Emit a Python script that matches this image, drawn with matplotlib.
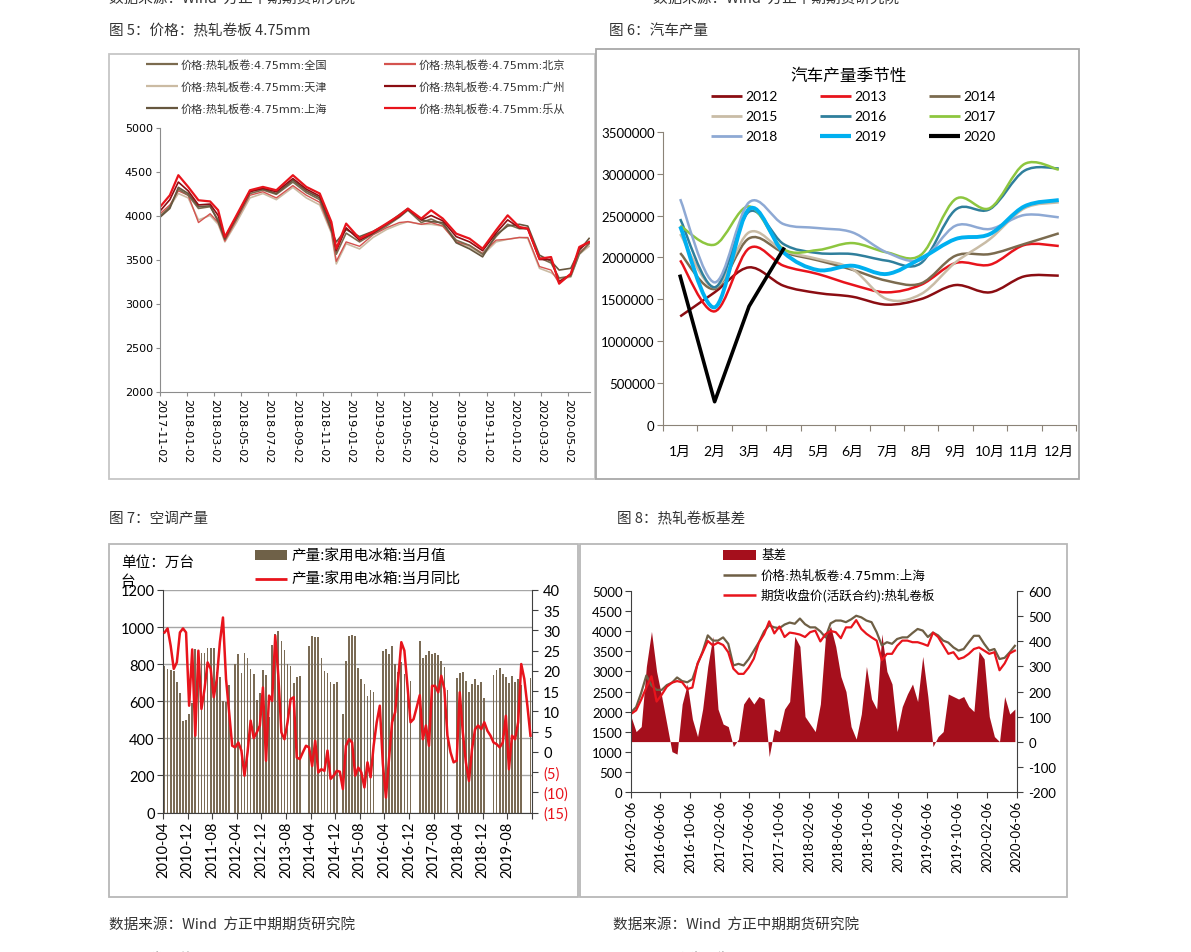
import numpy as np
import pandas as pd
import matplotlib
matplotlib.use("Agg")
import matplotlib.pyplot as plt
from matplotlib.path import Path
from matplotlib.patches import PathPatch, Rectangle
from matplotlib.lines import Line2D

plt.rcParams['font.family'] = ['Lato', 'Noto Sans CJK SC', 'DejaVu Sans']
plt.rcParams['axes.unicode_minus'] = False

W, H = 1191, 953
CJK = ['Noto Sans CJK SC', 'DejaVu Sans']
VER = ['DejaVu Sans', 'Noto Sans CJK SC']

# ---------------- 图5 价格：热轧卷板 4.75mm ----------------
p5_dates = ["2017-11-02", "2017-11-24", "2017-12-13", "2018-01-04", "2018-01-27",
            "2018-02-22", "2018-03-12", "2018-03-27", "2018-04-22", "2018-05-22",
            "2018-06-20", "2018-07-20", "2018-08-26", "2018-09-25", "2018-10-25",
            "2018-11-20", "2018-12-01", "2018-12-23", "2019-01-22", "2019-02-21",
            "2019-03-23", "2019-04-21", "2019-05-10", "2019-06-09", "2019-07-01",
            "2019-07-27", "2019-08-26", "2019-09-25", "2019-10-24", "2019-11-23",
            "2019-12-19", "2020-01-14", "2020-02-02", "2020-02-28", "2020-03-25",
            "2020-04-12", "2020-05-08", "2020-05-27", "2020-06-18"]
p5_quanguo = [3990, 4100, 4300, 4230, 4080, 4100, 3950, 3740, 3960, 4250, 4290, 4240, 4380,
              4260, 4180, 3860, 3560, 3800, 3700, 3790, 3880, 3980, 4060, 3920, 3960, 3900,
              3720, 3660, 3560, 3760, 3900, 3850, 3850, 3520, 3460, 3290, 3310, 3560, 3680]
p5_tianjin = [4000, 4100, 4250, 4200, 3950, 4000, 3900, 3700, 3920, 4200, 4250, 4180, 4320,
              4200, 4120, 3800, 3450, 3680, 3620, 3750, 3840, 3900, 3930, 3900, 3900, 3880,
              3700, 3640, 3550, 3700, 3730, 3750, 3740, 3400, 3350, 3280, 3300, 3560, 3650]
p5_shanghai = [3980, 4080, 4320, 4250, 4100, 4110, 3930, 3730, 3990, 4280, 4300, 4250, 4400,
               4280, 4200, 3830, 3700, 3840, 3760, 3820, 3900, 4010, 4080, 3950, 3930, 3920,
               3690, 3620, 3530, 3780, 3880, 3900, 3880, 3550, 3480, 3380, 3400, 3600, 3740]
p5_beijing = [4020, 4120, 4280, 4230, 3920, 4020, 3920, 3710, 3950, 4230, 4270, 4200, 4340,
              4230, 4150, 3820, 3480, 3700, 3650, 3780, 3860, 3920, 3930, 3900, 3920, 3880,
              3700, 3660, 3570, 3720, 3730, 3750, 3750, 3420, 3380, 3230, 3330, 3580, 3680]
p5_guangzhou = [4050, 4180, 4380, 4280, 4120, 4130, 4000, 3750, 3990, 4270, 4310, 4270, 4420,
                4300, 4220, 3900, 3600, 3860, 3720, 3800, 3900, 3990, 4070, 3950, 4000, 3940,
                3760, 3700, 3600, 3800, 3950, 3860, 3850, 3500, 3500, 3250, 3330, 3620, 3700]
p5_lecong = [4097, 4230, 4458, 4325, 4173, 4160, 4060, 3756, 4002, 4287, 4325, 4287, 4458,
             4325, 4250, 3927, 3623, 3908, 3737, 3813, 3908, 4002, 4078, 3965, 4059, 3965,
             3794, 3737, 3623, 3832, 4002, 3870, 3851, 3509, 3528, 3225, 3338, 3642, 3699]
p5_labels = ["价格:热轧板卷:4.75mm:全国", "价格:热轧板卷:4.75mm:天津", "价格:热轧板卷:4.75mm:上海",
             "价格:热轧板卷:4.75mm:北京", "价格:热轧板卷:4.75mm:广州", "价格:热轧板卷:4.75mm:乐从"]

# ---------------- 图6 汽车产量季节性 ----------------
car_months = ["1月", "2月", "3月", "4月", "5月", "6月", "7月", "8月", "9月", "10月", "11月", "12月"]
car_2012 = [1296000, 1583000, 1881000, 1662000, 1575000, 1531000, 1436000, 1503000, 1670000, 1583000, 1774000, 1782000]
car_2013 = [1965000, 1356000, 2108000, 1901000, 1802000, 1674000, 1583000, 1674000, 1933000, 1913000, 2148000, 2136000]
car_2014 = [2052000, 1623000, 2227000, 2060000, 1965000, 1853000, 1722000, 1690000, 2020000, 2040000, 2160000, 2287000]
car_2015 = [2279000, 1643000, 2299000, 2080000, 1981000, 1861000, 1503000, 1563000, 1941000, 2219000, 2585000, 2657000]
car_2016 = [2458000, 1643000, 2545000, 2160000, 2052000, 2040000, 1961000, 1933000, 2569000, 2577000, 3034000, 3062000]
car_2017 = [2378000, 2152000, 2609000, 2100000, 2088000, 2171000, 2060000, 2032000, 2696000, 2589000, 3114000, 3046000]
car_2018 = [2696000, 1702000, 2657000, 2398000, 2350000, 2299000, 2060000, 1973000, 2378000, 2339000, 2506000, 2478000]
car_2019 = [2370000, 1404000, 2577000, 2060000, 1849000, 1901000, 1802000, 1988000, 2219000, 2279000, 2609000, 2684000]
car_2020 = [1774000, 278000, 1416000, 2100000]

# ---------------- 图7 家用电冰箱产量 ----------------
fridge_start = "2010-04"
fridge_val = ([788, 773, 770, 765, 702, 644, 491, 498, 531] +
              [590, 880, 855, 860, 860, 885, 885, 885, 760, 730, 600, 595] +
              [690, np.nan, 800, 855, 750, 860, 835, 775, 745, 605, 645, 770] +
              [740, 515, 905, 965, 980, 925, 875, 800, 790, 700, 730, 735] +
              [np.nan, np.nan, 900, 950, 945, 945, 835, 765, 750, 705, 695, 705] +
              [np.nan, 530, 815, 950, 955, 950, 780, 720, 695, 630, 660, 650] +
              [np.nan, np.nan, 870, 880, 855, 900, 800, 760, 810, 745, 720, 710] +
              [np.nan, np.nan, 925, 835, 850, 870, 855, 860, 850, 815, 785, 660] +
              [np.nan, np.nan, 725, 755, 760, 710, 650, 695, 720, 685, 705, 620] +
              [np.nan, np.nan, 740, 770, 780, 745, 730, 700, 735, 705, 720, 690] +
              [np.nan, np.nan, 725])
fridge_yoy = [29.5, 30.5, 26.2, 20.5, 22.1, 29.5, 30.5, 29.5, 11.4, 25.3,
              4.0, 25.0, 10.6, 15.5, 22.1, 20.5, 13.5, 18.0, 27.1, 33.2,
              18.0, 9.8, 1.5, 1.1, 2.3, 0.3, -5.9, -0.1, 7.7, 3.4,
              4.8, 6.5, 15.9, -2.2, 13.9, 12.6, 28.7, 18.8, 4.8, 3.1,
              7.3, 13.0, 13.5, -1.4, -1.8, -0.1, 1.5, 1.1, -3.5, 2.7,
              -5.1, -4.3, -4.7, 0.3, -6.7, -5.9, -4.7, -4.9, -9.2, 1.5,
              3.1, 2.3, -5.9, -3.9, -5.1, -8.8, -2.6, -6.3, 1.5, 7.3,
              11.4, -3.0, -11.3, -1.8, 7.3, 9.8, 18.0, 27.1, 25.0, 16.3,
              7.3, 8.1, 11.0, 14.0, 3.1, 6.5, 1.5, 16.3, 16.3, 14.7,
              18.8, 15.5, 4.0, -0.1, -2.6, -2.2, 14.7, 4.8, -2.6, -7.2,
              0.7, 5.6, 6.5, 5.6, 7.3, 5.2, 4.0, 2.3, 1.9, 1.1,
              2.3, 8.9, -4.3, 4.0, 3.1, 7.3, 21.7, 18.0, 11.4, 4.0]

# ---------------- 图8 热轧卷板基差 ----------------
basis_start = "2016-02-06"
spot_sh = [1980, 2110, 2470, 2900, 2650, 2540, 2540, 2660, 2720, 2850, 2760, 2730, 2810,
           3180, 3500, 3900, 3770, 3770, 3850, 3690, 3150, 3190, 3150, 3310, 3520, 3730,
           4000, 4150, 4100, 4080, 4170, 4220, 4190, 4320, 4180, 4100, 4100, 4000, 3850,
           4200, 4270, 4270, 4230, 4300, 4390, 4350, 4270, 4230, 3980, 3650, 3730, 3690,
           3810, 3850, 3850, 3960, 4060, 4020, 3860, 3970, 3900, 3770, 3720, 3600, 3520,
           3560, 3730, 3890, 3890, 3690, 3520, 3560, 3310, 3340, 3480, 3640]
futures = [1940, 2030, 2300, 2600, 2880, 2250, 2420, 2620, 2720, 2760, 2730, 2560, 2600,
           3200, 3470, 3760, 3650, 3720, 3660, 3480, 3070, 2940, 2940, 3100, 3320, 3720,
           3930, 4250, 3950, 4120, 3860, 3970, 3950, 3920, 3860, 3980, 4020, 3750, 3930,
           4010, 3980, 3830, 4100, 4100, 4280, 4060, 3940, 3850, 3770, 3280, 3440, 3440,
           3640, 3770, 3770, 3730, 3730, 3690, 3640, 3970, 3860, 3650, 3440, 3480, 3310,
           3350, 3440, 3560, 3600, 3520, 3440, 3480, 3030, 3200, 3450, 3520]
basis = [100, 40, 60, 300, 440, 280, 180, 70, -40, -50, 150, 230, 90,
         20, 130, 300, 420, 130, 70, 60, -20, 10, 150, 180, 150, 180,
         170, -60, 50, 40, 130, 160, 420, 380, 100, 70, 40, 150, 420,
         460, 380, 260, 200, 60, 10, 110, 300, 170, 130, 430, 280, 230,
         40, 140, 190, 230, 160, 340, 180, -20, 20, 40, 190, 180, 170,
         180, 140, 120, 360, 330, 100, 20, 0, 180, 110, 130]


def fx(x):
    return x / W


def fy(y):
    return 1 - y / H


def axes_px(fig, left, top, right, bottom):
    return fig.add_axes([fx(left), fy(bottom), (right - left) / W, (bottom - top) / H])


def frame(fig, x0, y0, x1, y1, color):
    fig.add_artist(Rectangle((fx(x0), fy(y1)), (x1 - x0) / W, (y1 - y0) / H,
                             transform=fig.transFigure, fill=False, edgecolor=color, lw=1.3))


def leg_line(fig, x0, x1, y, color, lw):
    fig.add_artist(Line2D([fx(x0), fx(x1)], [fy(y), fy(y)], transform=fig.transFigure,
                          color=color, lw=lw, solid_capstyle='butt'))


def leg_box(fig, x0, x1, y0, y1, color):
    fig.add_artist(Rectangle((fx(x0), fy(y1)), (x1 - x0) / W, (y1 - y0) / H,
                             transform=fig.transFigure, color=color, lw=0))


def txt(fig, x, y, s, size, family=CJK, **kw):
    kw.setdefault('ha', 'left')
    fig.text(fx(x), fy(y), s, fontsize=size, va='center', family=family, **kw)


def smooth_path(xs, ys):
    pts = np.column_stack([xs, ys]).astype(float)
    n = len(pts)
    verts = [pts[0]]
    codes = [Path.MOVETO]
    for i in range(n - 1):
        p0 = pts[i - 1] if i > 0 else pts[i]
        p1 = pts[i]
        p2 = pts[i + 1]
        p3 = pts[i + 2] if i + 2 < n else pts[i + 1]
        verts += [p1 + (p2 - p0) / 6, p2 - (p3 - p1) / 6, p2]
        codes += [Path.CURVE4] * 3
    return Path(verts, codes)


fig = plt.figure(figsize=(W / 100, H / 100), dpi=100)

# captions
txt(fig, 109, -1, "数据来源：Wind  方正中期期货研究院", 10.5, color='#333333')
txt(fig, 653, -1, "数据来源：Wind  方正中期期货研究院", 10.5, color='#333333')
txt(fig, 109, 31, "图 5：价格：热轧卷板 4.75mm", 10.5, color='#333333')
txt(fig, 609, 31, "图 6：汽车产量", 10.5, color='#333333')
txt(fig, 109, 519, "图 7：空调产量", 10.5, color='#333333')
txt(fig, 617, 519, "图 8：热轧卷板基差", 10.5, color='#333333')
txt(fig, 109, 925, "数据来源：Wind  方正中期期货研究院", 10.5, color='#333333')
txt(fig, 613, 925, "数据来源：Wind  方正中期期货研究院", 10.5, color='#333333')
txt(fig, 109, 960, "图 9：卷螺价差", 10.5, color='#333333')
txt(fig, 625, 960, "图 10：热卷利润", 10.5, color='#333333')

frame(fig, 109, 55, 595, 480, '#c6c6c6')
frame(fig, 596, 50, 1079, 480, '#a8a8a8')
frame(fig, 109, 545, 578, 898, '#b8b8b8')
frame(fig, 580, 545, 1067, 898, '#b8b8b8')

# ---------- chart 5 ----------
ax5 = axes_px(fig, 160, 128.5, 590, 392.5)
d5 = pd.to_datetime(p5_dates)
series5 = [(p5_quanguo, '#7b6b4f', 1.2), (p5_tianjin, '#cbbba3', 1.2), (p5_shanghai, '#66573f', 1.2),
           (p5_beijing, '#d4534f', 1.0), (p5_guangzhou, '#8b0d12', 1.2), (p5_lecong, '#e8141c', 1.6)]
for vals, col, lw in [series5[1], series5[3], series5[0], series5[2], series5[4], series5[5]]:
    ax5.plot(d5, vals, color=col, lw=lw)
ax5.set_ylim(2000, 5000)
ax5.set_xlim(pd.Timestamp("2017-11-02"), pd.Timestamp("2020-06-20"))
t5 = pd.date_range("2017-11-02", "2020-05-02", freq=pd.DateOffset(months=2))
ax5.set_xticks(t5, [t.strftime("%Y-%m-%d") for t in t5], rotation=270, fontsize=8, family=VER)
ax5.set_yticks(range(2000, 5001, 500), [str(v) for v in range(2000, 5001, 500)], fontsize=8, family=VER)
for s in ['top', 'right']:
    ax5.spines[s].set_visible(False)
for s in ['left', 'bottom']:
    ax5.spines[s].set_color('#8c8c8c')
ax5.tick_params(length=3, color='#8c8c8c', pad=2)
for i, (vals, col, lw) in enumerate(series5):
    x0 = 146 if i < 3 else 384
    y = 65 + 22 * (i % 3)
    leg_line(fig, x0, x0 + 32, y, col, 1.6)
    txt(fig, x0 + 35, y, p5_labels[i], 8, family=VER, color='#333333')

# ---------- chart 6 ----------
ax6 = axes_px(fig, 663, 132.7, 1076, 426)
xm = np.arange(1, 13)
car_series = [(car_2012, '#8b0d12', 1.8), (car_2013, '#e8141c', 1.8), (car_2014, '#7b6b4f', 1.8),
              (car_2015, '#c9bca6', 1.8), (car_2016, '#2f7f9c', 1.8), (car_2017, '#8dc63f', 1.8),
              (car_2018, '#8ea9d4', 1.8), (car_2019, '#00b0f0', 2.8)]
for vals, col, lw in car_series:
    ax6.add_patch(PathPatch(smooth_path(xm, vals), fill=False, edgecolor=col, lw=lw))
ax6.plot(xm[:len(car_2020)], car_2020, color='black', lw=2.6)
ax6.set_xlim(0.5, 12.5)
ax6.set_ylim(0, 3500000)
ax6.set_xticks(np.arange(0.5, 12.6, 1), [''] * 13)
ax6.set_xticks(xm, car_months, minor=True, fontsize=10)
ax6.tick_params(axis='x', which='minor', length=0, pad=14)
ax6.tick_params(axis='x', which='major', length=4, color='#8b8378')
yt6 = list(range(0, 3500001, 500000))
ax6.set_yticks(yt6, [str(v) for v in yt6], fontsize=9.5)
ax6.tick_params(axis='y', length=4, color='#8b8378', pad=2)
for s in ['top', 'right']:
    ax6.spines[s].set_visible(False)
for s in ['left', 'bottom']:
    ax6.spines[s].set_color('#8b8378')
fig.text(fx(849), fy(76), "汽车产量季节性", fontsize=12, ha='center', va='center', family=CJK)
leg6 = [("2012", '#8b0d12', 2), ("2013", '#e8141c', 2), ("2014", '#7b6b4f', 2),
        ("2015", '#c9bca6', 2), ("2016", '#2f7f9c', 2), ("2017", '#8dc63f', 2),
        ("2018", '#8ea9d4', 2), ("2019", '#00b0f0', 3), ("2020", 'black', 3)]
for i, (lab, col, lw) in enumerate(leg6):
    x0 = [711, 820, 929][i % 3]
    y = 97 + 20 * (i // 3)
    leg_line(fig, x0, x0 + 31, y, col, lw)
    txt(fig, x0 + 34, y, lab, 10, family=['Lato'])

# ---------- chart 7 ----------
ax7 = axes_px(fig, 163, 591, 532, 813.5)
n7 = len(fridge_val)
months7 = pd.period_range(fridge_start, periods=n7, freq='M')
pos7 = np.arange(n7) + 0.5
ax7.bar(pos7, fridge_val, width=0.55, color='#7a6b55', zorder=2)
ax7.set_xlim(0, n7)
ax7.set_ylim(0, 1200)
xt7 = np.arange(0, n7 + 1, 8)
ax7.set_xticks(xt7, [str(months7[i]) if i < n7 else '' for i in xt7], rotation=90, fontsize=10.5)
ax7.set_yticks(range(0, 1201, 200), [str(v) for v in range(0, 1201, 200)], fontsize=10.5)
ax7.grid(axis='y', color='#a6a6a6', lw=1, zorder=0)
ax7.tick_params(length=4, color='#404040', pad=2)
ax7.spines['top'].set_visible(False)
ax7.spines['right'].set_visible(False)
for s in ['left', 'bottom']:
    ax7.spines[s].set_color('#404040')
ax7r = ax7.twinx()
ax7r.plot(pos7, fridge_yoy, color='#e8141c', lw=1.8)
ax7r.set_ylim(-15, 40)
yt7r = list(range(-15, 41, 5))
ax7r.set_yticks(yt7r, ["(%d)" % (-v) if v < 0 else str(v) for v in yt7r], fontsize=10.5)
for lbl, v in zip(ax7r.get_yticklabels(), yt7r):
    if v < 0:
        lbl.set_color('#e8141c')
ax7r.tick_params(length=4, color='#404040', pad=4)
for s in ['top', 'left', 'bottom']:
    ax7r.spines[s].set_visible(False)
ax7r.spines['right'].set_color('#404040')
leg_box(fig, 255, 287, 551, 561, '#6f6148')
txt(fig, 291, 556, "产量:家用电冰箱:当月值", 10.5)
leg_line(fig, 255, 287, 580, '#e8141c', 2)
txt(fig, 291, 580, "产量:家用电冰箱:当月同比", 10.5)
txt(fig, 121, 563, "单位：万台", 10.5)
txt(fig, 121, 582, "台", 10.5)

# ---------- chart 8 ----------
ax8 = axes_px(fig, 631, 592.3, 1017.3, 792.7)
ax8r = ax8.twinx()
d8 = pd.date_range(basis_start, periods=len(basis), freq='21D')
ax8r.fill_between(d8, 0, basis, color='#a50f1c', lw=0)
ax8.plot(d8, spot_sh, color='#6e5f45', lw=1.6)
ax8.plot(d8, futures, color='#e8141c', lw=1.6)
ax8.set_zorder(ax8r.get_zorder() + 1)
ax8.patch.set_visible(False)
ax8.set_xlim(pd.Timestamp("2016-02-06"), pd.Timestamp("2020-06-09"))
ax8.set_ylim(0, 5000)
ax8r.set_ylim(-200, 600)
t8 = pd.date_range("2016-02-06", "2020-06-06", freq=pd.DateOffset(months=4))
ax8.set_xticks(t8, [t.strftime("%Y-%m-%d") for t in t8], rotation=90, fontsize=9.5)
ax8.set_yticks(range(0, 5001, 500), [str(v) for v in range(0, 5001, 500)], fontsize=9.5)
ax8r.set_yticks(range(-200, 601, 100), [str(v) for v in range(-200, 601, 100)], fontsize=9.5)
ax8.tick_params(length=4, color='#404040', pad=2)
ax8r.tick_params(length=4, color='#404040', pad=4)
for a in (ax8, ax8r):
    a.spines['top'].set_visible(False)
ax8.spines['right'].set_visible(False)
ax8r.spines['left'].set_visible(False)
ax8r.spines['bottom'].set_visible(False)
for s in ['left', 'bottom']:
    ax8.spines[s].set_color('#404040')
ax8r.spines['right'].set_color('#404040')
leg_box(fig, 723, 756, 551, 561, '#a50f1c')
txt(fig, 761, 556, "基差", 9)
leg_line(fig, 723, 756, 576, '#6e5f45', 1.8)
txt(fig, 761, 576, "价格:热轧板卷:4.75mm:上海", 9, family=VER)
leg_line(fig, 723, 756, 596, '#e8141c', 1.8)
txt(fig, 761, 596, "期货收盘价(活跃合约):热轧卷板", 9)

fig.savefig("out.png", dpi=100)
